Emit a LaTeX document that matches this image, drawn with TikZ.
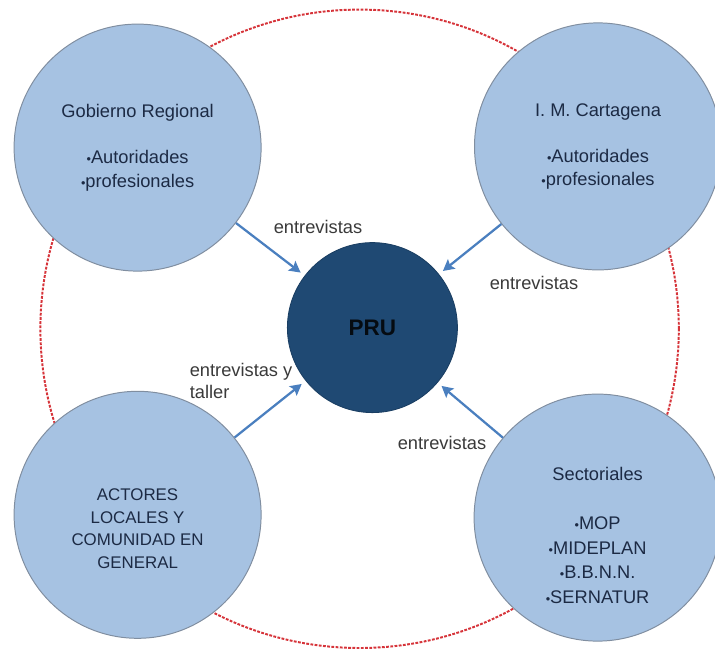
\documentclass[tikz,border=0pt]{standalone}
\usepackage{fontspec}
\setmainfont{Liberation Sans}
\usepackage{tikz}
\usetikzlibrary{positioning,arrows.meta,shapes}
\definecolor{actorfill}{RGB}{166,194,226}
\definecolor{actoredge}{RGB}{128,142,160}
\definecolor{corefill}{RGB}{31,73,115}
\definecolor{textnavy}{RGB}{28,42,68}
\definecolor{labelgray}{RGB}{58,58,58}
\definecolor{arrowblue}{RGB}{74,127,191}
\definecolor{ringred}{RGB}{214,52,58}
\newcommand{\itm}{{\small\textbullet}}
\tikzstyle{actor}     = [circle, draw=actoredge, line width=0.7pt, fill=actorfill, minimum size=6.175cm, inner sep=0pt]
\tikzstyle{core}      = [circle, draw=corefill!85!black, line width=0.6pt, fill=corefill, minimum size=4.25cm, inner sep=0pt, font=\fontsize{16}{19}\selectfont\bfseries, text=black!85!corefill]
\tikzstyle{circtext}  = [align=center, text=textnavy, font=\fontsize{13}{16.5}\selectfont]
\tikzstyle{linklabel} = [align=left, text=labelgray, font=\fontsize{13}{15.6}\selectfont]
\tikzstyle{ring}      = [circle, draw=ringred, line width=1.4pt, dash pattern=on 2pt off 1pt, minimum size=15.96cm, inner sep=0pt]
\tikzstyle{arrow}     = [line width=1.6pt, draw=arrowblue, -{Stealth[length=8pt,width=8.5pt,inset=1.5pt]}, shorten >=0.125cm]

\begin{document}
\begin{tikzpicture}[]
		\useasboundingbox (0,0) rectangle (17.875,16.3);

		% outer boundary
		\node[ring] (ring) at (8.99,8.08) {};

		% actors
		\node[actor] (gob) at (3.44,12.61) {};
		\node[actor] (imc) at (14.95,12.64) {};
		\node[actor] (loc) at (3.44,3.43) {};
		\node[actor] (sec) at (14.94,3.36) {};
		\node[core] (pru) at (9.31,8.11) {PRU};

		\node[circtext] (gobtxt) at (gob) {Gobierno Regional\\[16.5pt] \itm Autoridades\\ \itm profesionales};
		\node[circtext] (imctxt) at (imc) {I. M. Cartagena\\[16.5pt] \itm Autoridades\\ \itm profesionales};
		\node[circtext, font=\fontsize{12}{16}\selectfont] (loctxt) at ([yshift=-0.35cm]loc.center) {ACTORES\\ LOCALES Y\\ COMUNIDAD EN\\ GENERAL};
		\node[circtext, font=\fontsize{13}{17.4}\selectfont] (sectxt) at ([yshift=-0.45cm]sec.center) {Sectoriales\\[17.4pt] \itm MOP\\ \itm MIDEPLAN\\ \itm B.B.N.N.\\ \itm SERNATUR};

		% links
		\draw[arrow] (gob) -- (pru);
		\draw[arrow] (imc) -- (pru);
		\draw[arrow] (loc) -- (pru);
		\draw[arrow] (sec) -- (pru);

		\node[linklabel] (lgob) at (7.95,10.63) {entrevistas};
		\node[linklabel] (limc) at (13.35,9.23) {entrevistas};
		\node[linklabel, anchor=west] (lloc) at (4.62,6.775) {entrevistas y\\ taller};
		\node[linklabel] (lsec) at (11.05,5.23) {entrevistas};
	\end{tikzpicture}
\end{document}
